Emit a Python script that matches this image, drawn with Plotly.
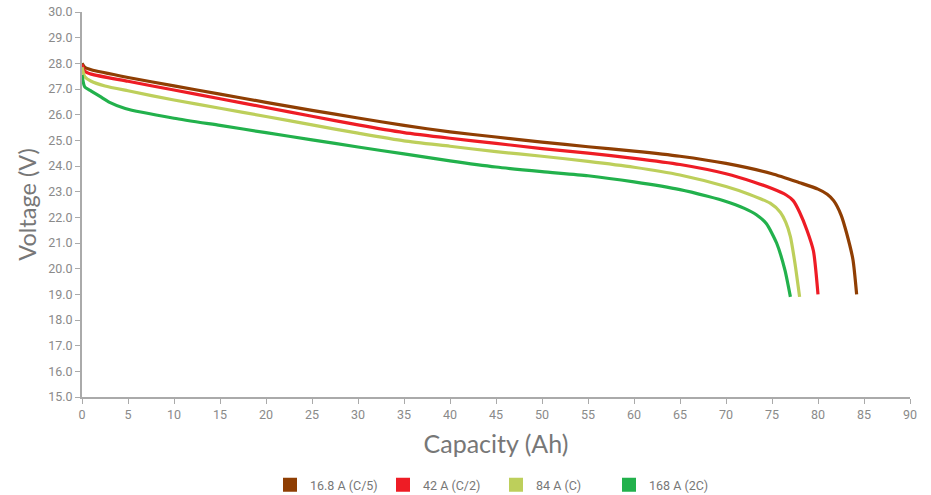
import plotly.graph_objects as go

# ---- data ----
series_names = ["16.8 A (C/5)", "42 A (C/2)", "84 A (C)", "168 A (2C)"]
series_colors = ["#8F3E03", "#EE1C25", "#BDCF5B", "#22B14C"]

brown_x = [0, 0.3, 1, 5, 10, 15, 20, 25, 30, 35, 40, 45, 50, 55, 60, 65, 70, 75, 78, 80, 81, 81.7, 82.5, 83.1, 83.8, 84.2]
brown_v = [28.0, 27.85, 27.75, 27.45, 27.12, 26.8, 26.48, 26.17, 25.87, 25.58, 25.33, 25.13, 24.93, 24.75, 24.58, 24.38, 24.1, 23.7, 23.35, 23.1, 22.9, 22.65, 22.1, 21.4, 20.35, 19.0]

red_x = [0, 0.3, 1, 5, 10, 15, 20, 25, 30, 35, 40, 45, 50, 55, 60, 65, 70, 73, 75, 76.5, 77.3, 78, 78.8, 79.5, 80.0]
red_v = [27.95, 27.7, 27.58, 27.3, 26.96, 26.62, 26.28, 25.94, 25.6, 25.3, 25.08, 24.88, 24.68, 24.5, 24.3, 24.06, 23.7, 23.38, 23.12, 22.88, 22.65, 22.2, 21.5, 20.7, 19.0]

yellow_x = [0, 0.3, 1, 2.5, 5, 10, 15, 20, 25, 30, 35, 40, 45, 50, 55, 60, 65, 70, 72.5, 74.8, 75.9, 76.5, 77, 77.5, 78]
yellow_v = [27.85, 27.48, 27.3, 27.12, 26.93, 26.57, 26.25, 25.93, 25.6, 25.28, 24.98, 24.77, 24.56, 24.38, 24.18, 23.95, 23.65, 23.2, 22.9, 22.55, 22.2, 21.8, 21.25, 20.2, 18.9]

green_x = [0, 0.3, 1, 2, 3, 4.7, 10, 15, 20, 25, 30, 35, 40, 45, 50, 55, 60, 65, 68, 70, 72, 73.3, 74.4, 75.5, 76.4, 77]
green_v = [27.55, 27.08, 26.92, 26.7, 26.48, 26.24, 25.86, 25.58, 25.3, 25.02, 24.74, 24.47, 24.2, 23.96, 23.78, 23.62, 23.38, 23.08, 22.82, 22.62, 22.35, 22.1, 21.75, 21.0, 19.95, 18.9]

x_ticks = list(range(0, 91, 5))
y_ticks = [15 + i for i in range(16)]

all_x = [brown_x, red_x, yellow_x, green_x]
all_v = [brown_v, red_v, yellow_v, green_v]

fig = go.Figure()
for name, color, xs, vs in zip(series_names, series_colors, all_x, all_v):
    fig.add_trace(go.Scatter(
        x=xs, y=vs, mode="lines", name=name, showlegend=False,
        line=dict(color=color, width=3.2, shape="spline", smoothing=0.6),
        hoverinfo="x+y",
    ))
for name, color in zip(series_names, series_colors):
    fig.add_trace(go.Scatter(
        x=[None], y=[None], mode="markers", name=name,
        marker=dict(color=color, symbol="square", size=14),
    ))

axis_gray = "#AAAAAA"
tick_font = dict(family="Roboto, sans-serif", size=12.5, color="#8A8A8A")

fig.update_layout(
    width=931, height=495,
    margin=dict(l=82, r=21, t=12, b=98, autoexpand=False),
    plot_bgcolor="white", paper_bgcolor="white",
    xaxis=dict(
        range=[0, 90], tickvals=x_ticks, showgrid=False, zeroline=False,
        showline=True, linecolor=axis_gray, linewidth=2, automargin=False,
        ticks="outside", ticklen=5, tickcolor=axis_gray, tickwidth=1,
        tickfont=tick_font, ticklabeloverflow="allow",
        title=dict(text="Capacity (Ah)", font=dict(family="Lato, sans-serif", size=25, color="#777777"), standoff=14),
    ),
    yaxis=dict(
        range=[15, 30], tickvals=y_ticks, tickformat=".1f", showgrid=False, zeroline=False,
        showline=True, linecolor=axis_gray, linewidth=2, automargin=False,
        ticks="outside", ticklen=5, tickcolor=axis_gray, tickwidth=1,
        tickfont=tick_font, ticklabeloverflow="allow",
        title=dict(text="Voltage (V)", font=dict(family="Lato, sans-serif", size=23.5, color="#777777"), standoff=5),
    ),
    legend=dict(
        orientation="h", x=0.5, xanchor="center", y=-0.229, yanchor="middle",
        font=dict(family="Roboto, sans-serif", size=12.5, color="#777777"),
        entrywidth=68, entrywidthmode="pixels", itemwidth=30,
    ),
    showlegend=True,
)

fig.write_html("out.html", config={"displayModeBar": False},
               post_script="document.body.style.margin='0';")
